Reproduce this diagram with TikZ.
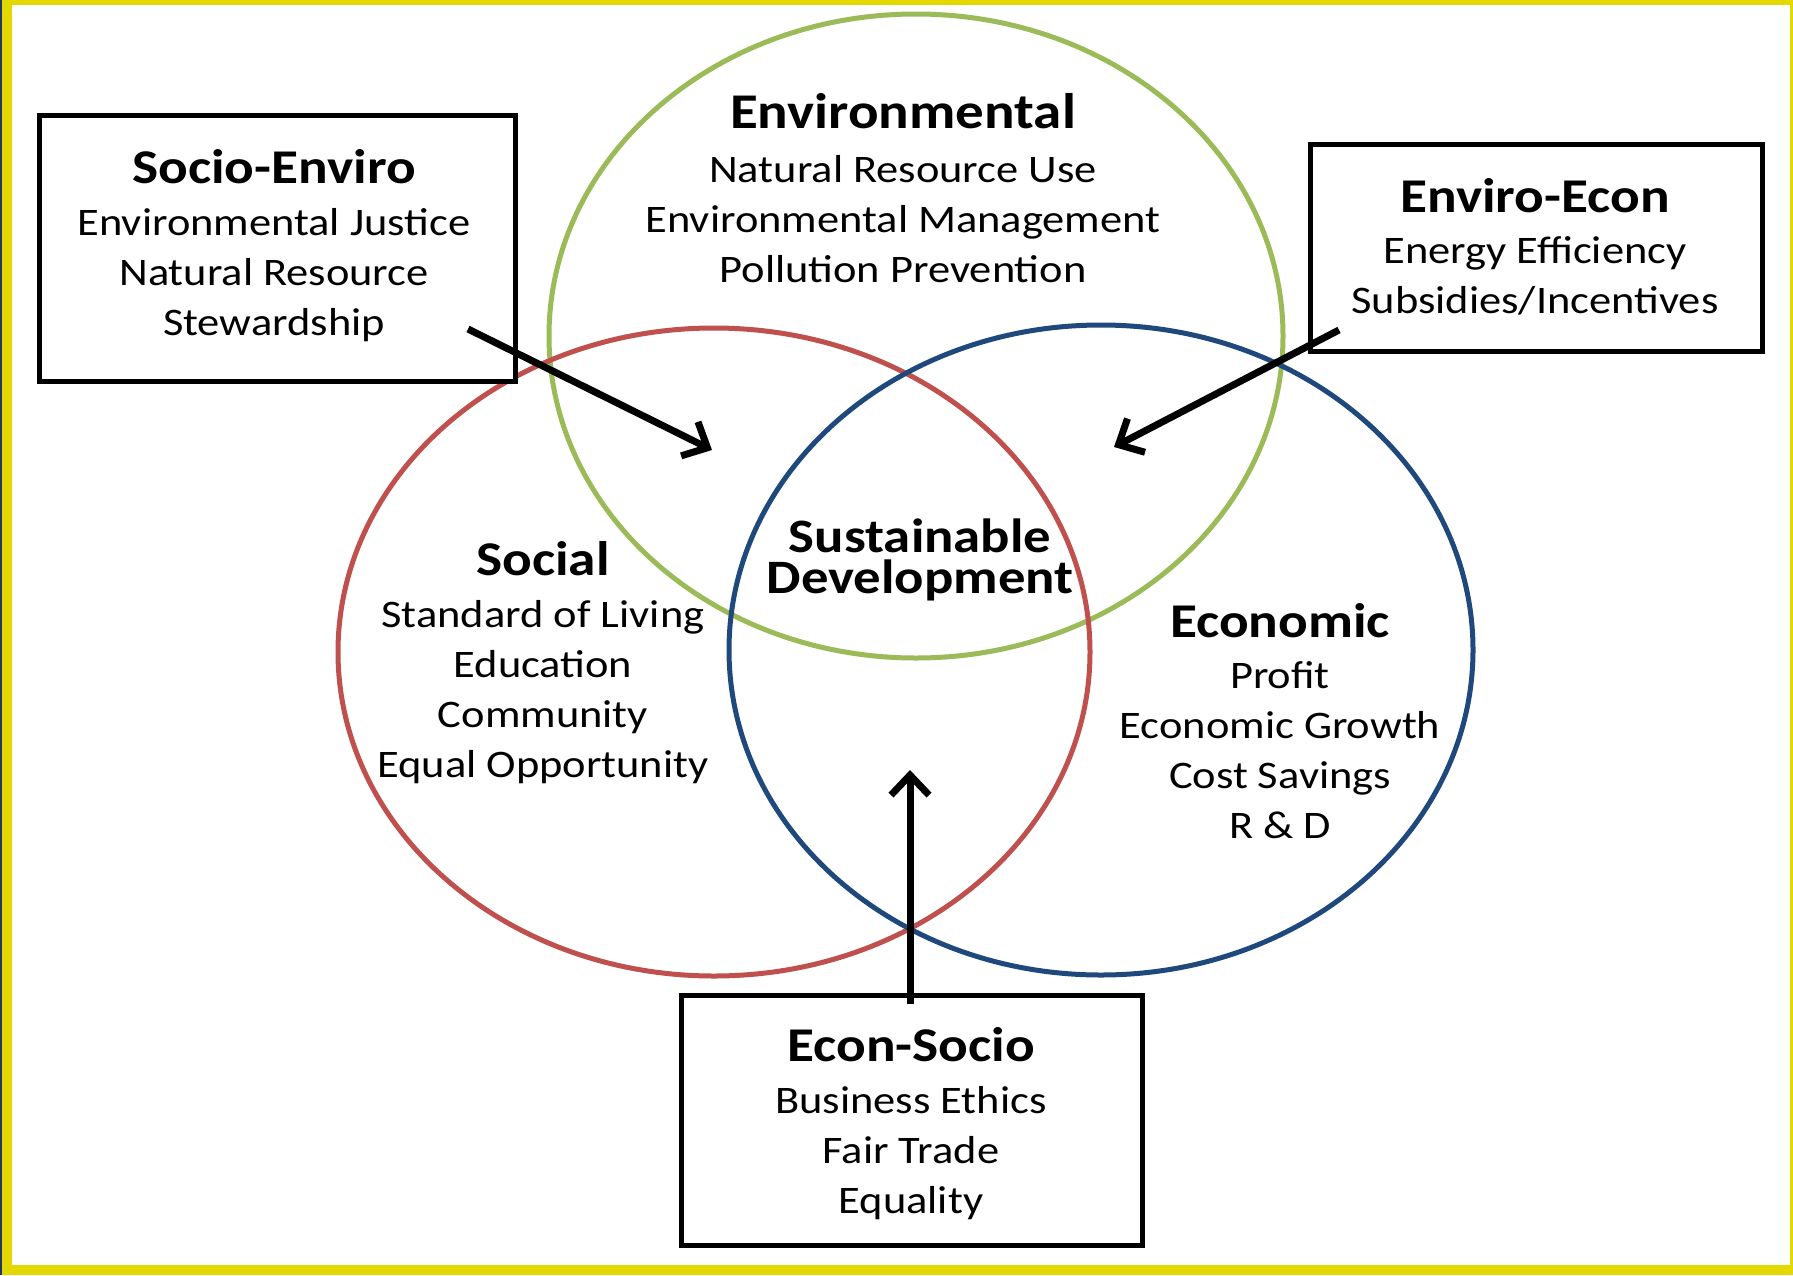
\documentclass[tikz,border=0pt]{standalone}
\usepackage{fontspec}
\setmainfont{Carlito}[FakeStretch=1.14]
\usepackage{xcolor}
\definecolor{dnxanhla}{HTML}{9BBB59}
\definecolor{dndo}{HTML}{C0504D}
\definecolor{dnxanhdam}{HTML}{1F497D}
\definecolor{dnvang}{HTML}{E3D900}
\definecolor{dnxanhden}{HTML}{1F3864}
\def\maumt{dnxanhla}
\def\mauxh{dndo}
\def\maukt{dnxanhdam}
\def\mauvien{dnvang}
\usetikzlibrary{arrows.meta}

\begin{document}
\begin{tikzpicture}[x=1pt,y=-1pt,declare function ={lw=5;},
	tieude/.style={font=\fontsize{48.5}{50}\selectfont\bfseries},
	noidung/.style={align=center,font=\fontsize{39}{50}\selectfont},
	hop/.style={draw,fill=white,line width=lw*1pt,inner sep=0pt},
	muiten/.style={line width=7pt,-{Straight Barb[length=20pt,width=38pt]}}]
		\fill[\mauvien] (0,0) rectangle (1793,1275);
		\fill[white] (12,5) rectangle (1790,1265);
		\fill[dnxanhden] (0,0) rectangle (2,1275);
		\useasboundingbox (0,0) rectangle (1793,1275);
		\path (916,336) coordinate (Omt)
		(714,652) coordinate (Oxh)
		(1101,650) coordinate (Okt);
		\draw[\maumt,line width=lw*1pt] (Omt) ellipse [x radius=367pt,y radius=322pt];
		\draw[\mauxh,line width=lw*1pt] (Oxh) ellipse [x radius=376pt,y radius=324pt];
		\draw[\maukt,line width=lw*1pt] (Okt) ellipse [x radius=372pt,y radius=325pt];
		\path (277,248) node[hop,minimum width=476pt,minimum height=266pt] (hopxm) {}
		(1536,248) node[hop,minimum width=452pt,minimum height=207pt] (hopmk) {}
		(912,1120) node[hop,minimum width=461pt,minimum height=250pt] (hopkx) {};
		\path (468,329) coordinate (dxm) (712,450) coordinate (cxm)
		(1339,330) coordinate (dmk) (1114,447) coordinate (cmk)
		(910,1004) coordinate (dkx) (910,770) coordinate (ckx);
		\draw[muiten] (dxm) -- (cxm);
		\draw[muiten] (dmk) -- (cmk);
		\draw[muiten] (dkx) -- (ckx);
		\path (903,111) node[tieude,font=\fontsize{50}{50}\selectfont\bfseries] (tdmt) {Environmental}
		(903,219) node[noidung] (ndmt) {Natural Resource Use\\Environmental Management\\Pollution Prevention}
		(543,559) node[tieude] (tdxh) {Social}
		(543,692) node[noidung] (ndxh) {Standard of Living\\Education\\Community\\Equal Opportunity}
		(1280,621) node[tieude] (tdkt) {Economic}
		(1280,750) node[noidung] (ndkt) {Profit\\Economic Growth\\Cost Savings\\R \& D}
		(920,560) node[align=center,font=\fontsize{48}{41}\selectfont\bfseries] (bv) {Sustainable\\Development}
		(274,167) node[tieude] (tdxm) {Socio-Enviro}
		(274,275) node[noidung] (ndxm) {Environmental Justice\\Natural Resource\\Stewardship}
		(1535,196) node[tieude] (tdmk) {Enviro-Econ}
		(1535,276) node[noidung] (ndmk) {Energy Efficiency\\Subsidies/Incentives}
		(911,1045) node[tieude] (tdkx) {Econ-Socio}
		(911,1153) node[noidung] (ndkx) {Business Ethics\\Fair Trade\\Equality}
		;
	\end{tikzpicture}
\end{document}
